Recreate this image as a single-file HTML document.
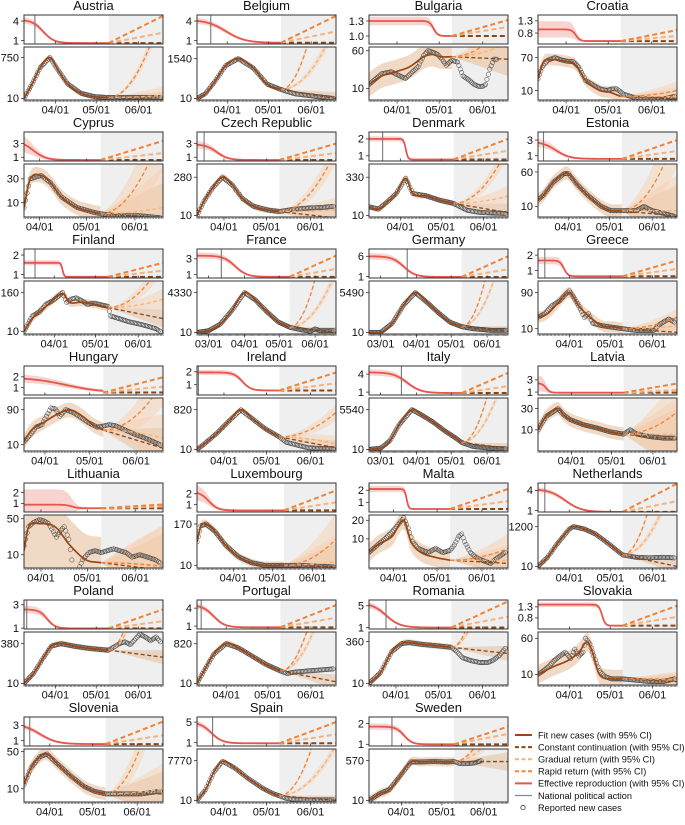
<!DOCTYPE html>
<html><head><meta charset="utf-8"><style>
html,body{margin:0;padding:0;background:#fff;}
svg{display:block;font-family:"Liberation Sans",sans-serif;}
</style></head><body>
<svg id="chart" width="685" height="825" viewBox="0 0 685 825" xmlns="http://www.w3.org/2000/svg"></svg>
<script>
// ---------- data ----------
const names=["Austria","Belgium","Bulgaria","Croatia","Cyprus","Czech Republic","Denmark","Estonia","Finland","France","Germany","Greece","Hungary","Ireland","Italy","Latvia","Lithuania","Luxembourg","Malta","Netherlands","Poland","Portugal","Romania","Slovakia","Slovenia","Spain","Sweden"];
const startDays=[8,9,11,11,21,12,8,9,9,-10,-10,8,17,12,-10,6,20,3,14,8,8,10,12,8,13,12,7];
const actionDays=[16,19,null,null,null,17,18,13,17,11,23,13,null,13,18,null,null,null,14,13,10,13,24,null,17,23,24];
const rTickLabels=[["4","1"],["4","1"],["1.3","1.0"],["1.3","0.8"],["3","1"],["3","1"],["2","1"],["3","1"],["2","1"],["3","1"],["6","1"],["2","1"],["2","1"],["2","1"],["4","1"],["3","1"],["2","1"],["2","1"],["2","1"],["4","1"],["3","1"],["4","1"],["5","1"],["1.3","0.8"],["3","1"],["5","1"],["2","1"]];
const rDomains=[[0.46,4.94],[0.46,4.94],[0.84,1.42],[0.35,1.54],[0.45,4.7],[0.45,4.7],[0.69,2.41],[0.33,4.03],[0.82,2.31],[0.55,4.25],[0.64,7.8],[0.51,2.4],[0.32,3.0],[0.2,2.45],[0.52,5.36],[0.52,5.28],[0.2,2.9],[0.3,3.0],[0.2,2.6],[0.79,5.1],[0.93,3.4],[0.52,5.36],[0.73,6.06],[0.3,1.61],[0.3,4.1],[0.32,6.0],[0.92,2.31]];
const rStart=[4.2,4.2,1.3,0.95,3.4,2.9,2.0,2.8,1.6,3.4,6.0,1.65,1.95,1.95,4.3,2.45,0.88,2.2,2.1,4.2,2.6,4.5,5.5,1.4,3.2,5.0,1.85];
const rEnd=[0.6,0.65,1.0,0.47,0.6,0.6,0.78,0.6,0.88,0.7,0.9,0.62,0.55,0.55,0.85,0.9,0.55,0.45,0.45,0.8,0.98,0.8,1.0,0.45,0.55,0.85,1.0];
const rDropDay=[22,30,57,38,27,26,35,22,37,23,20,27,45,44,23,12,51,12,40,28,25,22,24,55,24,22,33];
const rDropWidth=[4,7,1.5,1.5,4,4,0.8,5,0.6,5,5,1.5,12,3,6,1.5,2,3.5,0.7,6,3,4,5,1.2,6,4,3];
const rBand=[0.08,0.08,0.12,0.25,0.3,0.1,0.06,0.12,0.06,0.08,0.08,0.1,0.12,0.06,0.08,0.25,0.5,0.25,0.08,0.06,0.1,0.08,0.08,0.05,0.08,0.08,0.08];
const rScenGradual=[2.2,2.4,1.18,0.68,1.6,1.6,1.3,1.6,1.2,1.7,2.8,1.1,1.1,1.1,2.0,1.35,0.72,1.2,1.1,2.4,1.6,2.4,3.0,0.85,1.7,2.6,1.5];
const rScenRapid=[4.8,4.8,1.32,0.92,3.4,3.0,2.0,3.0,1.6,3.4,6.0,1.65,1.95,1.95,4.2,2.4,0.9,2.3,2.1,5.0,2.6,4.5,5.8,1.35,3.5,5.0,1.85];
const caseTickLabels=[[10,750],[10,1540],[10,60],[10,70],[10,30],[10,280],[10,330],[10,60],[10,160],[10,4330],[10,5490],[10,90],[10,90],[10,820],[10,5540],[10,30],[10,50],[10,170],[10,20],[10,1200],[10,380],[10,820],[10,360],[10,60],[10,50],[10,7770],[10,570]];
const caseTickPlacement=[[.03,.8],[.03,.78],[.22,.93],[.18,.8],[.27,.72],[.03,.75],[.03,.75],[.2,.85],[.05,.78],[.03,.78],[.03,.78],[.1,.78],[.12,.78],[.03,.78],[.03,.78],[.4,.8],[.25,.93],[.05,.83],[.55,.9],[.03,.78],[.03,.78],[.03,.78],[.03,.82],[.2,.88],[.25,.95],[.03,.78],[.03,.78]];
const fitKnots=[
[[8,10],[14,47],[20,266],[27,750],[33,200],[40,47],[50,17],[60,12],[70,11]],
[[9,10],[15,18],[22,86],[30,650],[39,1540],[50,460],[60,61],[70,31]],
[[11,12],[20,18],[30,22],[40,28],[50,45],[56,50],[62,45],[70,45]],
[[11,20],[15,55],[20,62],[30,57],[38,45],[45,18],[55,10],[62,9],[70,7]],
[[21,8],[25,30],[32,35],[38,25],[45,13],[55,8],[65,6.5],[70,6]],
[[12,10],[17,35],[23,110],[30,280],[37,140],[44,44],[52,22],[62,16],[70,14]],
[[8,22],[15,18],[22,37],[28,75],[35,300],[40,75],[50,60],[60,40],[70,30]],
[[9,14],[13,18],[20,35],[28,55],[31,55],[38,30],[45,18],[55,10],[62,8],[70,8]],
[[9,10],[15,25],[25,60],[37,150],[42,80],[50,80],[60,70],[70,55]],
[[-10,10],[0,13],[10,35],[20,280],[31,4330],[40,1500],[50,250],[60,50],[70,22]],
[[-10,10],[0,10],[10,42],[20,790],[30,5490],[40,1200],[50,220],[60,50],[70,25]],
[[8,20],[15,25],[22,45],[31,90],[38,40],[45,22],[55,12],[65,11],[70,10]],
[[17,12],[22,25],[30,40],[40,70],[48,88],[56,60],[63,35],[70,25]],
[[12,10],[17,18],[26,60],[35,250],[43,800],[51,300],[60,100],[70,40]],
[[-10,10],[0,12],[8,40],[16,500],[27,5540],[35,2500],[45,800],[55,200],[65,60],[70,30]],
[[6,10],[12,20],[21,30],[25,22],[30,17],[40,13],[50,11],[60,9],[70,8]],
[[20,12],[23,35],[30,40],[40,35],[50,15],[60,8],[70,7]],
[[3,50],[6,150],[10,170],[17,100],[25,40],[35,18],[45,12],[55,10],[70,10]],
[[14,6],[20,8],[30,11],[38,20],[43,9],[50,6],[60,5],[70,4.5]],
[[8,10],[15,30],[22,150],[31,900],[34,1200],[42,900],[50,500],[60,150],[70,40]],
[[8,10],[15,25],[22,100],[28,300],[35,380],[45,300],[55,250],[65,220],[70,210]],
[[10,10],[15,40],[22,250],[31,820],[40,500],[50,200],[60,80],[70,40]],
[[12,10],[20,25],[28,150],[35,300],[40,330],[50,280],[60,250],[70,220]],
[[8,10],[20,15],[30,20],[38,30],[44,50],[48,30],[53,10],[62,8],[70,8]],
[[13,12],[18,25],[24,40],[29,45],[36,30],[45,18],[55,11],[62,9],[70,8]],
[[12,10],[18,60],[24,1200],[30,7000],[38,2500],[48,400],[58,80],[66,30],[70,22]],
[[7,10],[15,20],[22,30],[30,120],[38,500],[45,500],[55,520],[65,500],[70,520]]];
const obsTail=[
[[80,11],[95,11],[108,11]],
[[80,18],[95,13],[108,10]],
null,null,
[[80,5.5],[95,5.5],[108,5]],
[[80,17],[90,19],[100,20],[108,22]],
[[80,16],[90,13],[108,12]],
[[80,8],[86,10],[92,8],[100,7],[108,6]],
null,
[[80,15],[88,12],[92,17],[96,13],[108,13]],
[[80,18],[95,14],[108,14]],
null,null,
[[75,22],[80,18],[90,12],[100,11],[108,11]],
[[80,16],[95,12],[108,11]],
[[75,10],[80,8],[90,7],[100,6.5],[108,6.5]],
null,
[[80,10],[95,9.5],[108,9]],
null,
[[80,30],[90,28],[100,30],[108,28]],
[[75,300],[78,380],[82,450],[86,350],[90,600],[93,900],[97,700],[101,500],[105,700],[108,450]],
[[75,30],[80,35],[90,40],[100,45],[108,50]],
[[74,150],[78,90],[84,70],[90,60],[96,60],[100,75],[104,110],[108,200]],
null,
[[80,8],[95,8],[108,9]],
[[75,14],[80,12],[90,11],[108,11]],
[[75,420],[80,420],[85,450],[90,560]]];
const obsOverride={
2:[[11,12],[20,20],[27,22],[33,18],[37,16],[42,22],[46,28],[50,48],[53,60],[57,55],[60,50],[63,40],[66,30],[70,38],[74,35],[78,18],[82,15],[86,12],[89,11],[92,11],[94,12],[97,25],[100,40],[102,40]],
3:[[11,20],[14,40],[18,60],[23,70],[27,62],[31,57],[36,55],[40,40],[45,18],[50,14],[55,11],[60,10],[64,11],[67,11],[72,8],[80,6.5],[90,6],[100,6],[108,7]],
8:[[9,10],[15,30],[20,40],[25,70],[30,90],[37,160],[40,80],[43,100],[47,110],[51,90],[55,70],[60,75],[66,65],[70,60],[72,30],[78,25],[85,20],[90,18],[95,16],[100,14],[105,12],[108,10]],
11:[[8,20],[13,25],[18,40],[24,55],[28,80],[31,100],[34,70],[38,40],[42,20],[45,25],[48,14],[55,12],[62,11],[70,10],[80,9],[88,9],[93,9],[96,12],[100,15],[104,18],[108,15]],
12:[[17,12],[21,18],[25,30],[29,35],[32,60],[35,100],[38,95],[41,60],[45,90],[50,75],[55,55],[60,40],[66,30],[70,32],[74,35],[78,33],[82,28],[90,20],[100,14],[108,10]],
16:[[20,15],[23,35],[26,42],[30,48],[33,45],[36,40],[39,28],[41,22],[44,30],[46,35],[49,20],[52,5],[55,5],[58,8],[62,11],[66,12],[70,11],[74,12],[78,13],[82,12],[86,11],[90,9],[95,10],[100,9],[105,8],[108,7]],
18:[[14,6],[20,8],[25,10],[30,13],[35,18],[38,22],[41,15],[44,9],[48,7],[55,6],[60,7],[65,6],[70,6.5],[73,8],[76,11],[78,12],[80,9],[84,6],[88,5],[92,4.5],[98,4],[103,5],[108,6]],
23:[[8,10],[12,12],[16,15],[20,20],[24,25],[28,30],[32,22],[35,35],[38,25],[41,30],[43,60],[46,45],[49,25],[53,12],[57,9],[62,8],[70,8],[80,7.5],[90,7],[100,7],[108,8]]};
const caseScenConst=[9,10,40,6,5,8,13,6,25,10,12,8,8,12,12,6,5,9,4,10,110,12,130,7,8,10,520];
const caseScenGradual=[14,1.2e5,90,7,8,16,60,8,100,1e5,1e8,12,15,18,1e7,8,5.5,13,4.5,1e6,1e9,1e7,1e9,7.5,10,1e5,1e5];
const caseScenRapid=[1.4e5,1e12,250,10,300,3000,5000,500,1500,1e12,1e14,20,500,600,1e12,25,6,60,7,1e12,1e12,1e10,1e12,8,2000,1e12,1e7];
const fitBand=[.12,.12,.25,.15,.15,.12,.12,.15,.12,.12,.12,.15,.2,.12,.12,.15,.5,.12,.15,.12,.12,.15,.12,.2,.12,.12,.2];
const scenBand=[.5,.5,.5,.3,1.0,.6,.5,1.0,.4,.5,.5,.3,.8,.5,.5,1.0,1.0,1.0,.3,.5,.4,.5,.4,.2,.6,.5,.6];
const monthDays=[0,31,61,92];
const monthLabels=["03/01","04/01","05/01","06/01"];

// ---------- layout ----------
const NS="http://www.w3.org/2000/svg";
const svg=document.getElementById("chart");
const colX=[24,197,369,538], PW=139, END=110, SHADE=70;
function mk(tag,parent){const e=document.createElementNS(NS,tag);(parent||svg).appendChild(e);return e;}
function set(e,a){for(const k in a)e.setAttribute(k,a[k]);return e;}
function L10(v){return Math.log10(v);}
function interpLog(kn,t,smooth){
  const n=kn.length;
  if(t<=kn[0][0])return L10(kn[0][1]);
  if(t>=kn[n-1][0])return L10(kn[n-1][1]);
  let i=0;while(kn[i+1][0]<t)i++;
  const c=k=>Math.max(0,Math.min(n-1,k));
  const d1=kn[i][0],d2=kn[i+1][0],u=(t-d1)/(d2-d1);
  const p1=L10(kn[i][1]),p2=L10(kn[i+1][1]);
  if(!smooth)return p1+(p2-p1)*u;
  const a=c(i-1),b=c(i+2);
  const m1=(p2-L10(kn[a][1]))/((d2-kn[a][0])||1)*(d2-d1);
  const m2=(L10(kn[b][1])-p1)/((kn[b][0]-d1)||1)*(d2-d1);
  const u2=u*u,u3=u2*u;
  return (2*u3-3*u2+1)*p1+(u3-2*u2+u)*m1+(-2*u3+3*u2)*p2+(u3-u2)*m2;
}
function pathFrom(pts){return pts.map((p,k)=>(k?"L":"M")+p[0].toFixed(2)+","+p[1].toFixed(2)).join("");}

names.forEach((name,i)=>{
  const col=i%4,row=Math.floor(i/4);
  const x0=colX[col], s0=startDays[i];
  const X=d=>x0+(d-s0)/(END-s0)*PW;
  const rTop=15+117*row, rH=29, cTop=47+117*row, cH=53;
  const rMin=rDomains[i][0], rMax=rDomains[i][1];
  const RY=v=>rTop+rH-(v-rMin)/(rMax-rMin)*rH;
  const lo=caseTickLabels[i][0], hi=caseTickLabels[i][1];
  const fLo=caseTickPlacement[i][0], fHi=caseTickPlacement[i][1];
  const CY=lv=>cTop+cH-(fLo+(lv-L10(lo))/(L10(hi)-L10(lo))*(fHi-fLo))*cH;

  const g=mk("g");
  
  

  const title=set(mk("text",g),{x:x0+PW/2,y:10+117*row,"text-anchor":"middle","font-size":"13",fill:"#111"});
  title.textContent=name;
  
  

  const cpR=set(mk("clipPath",g),{id:"cr"+i}); set(mk("rect",cpR),{x:x0,y:rTop,width:PW,height:rH});
  const cpC=set(mk("clipPath",g),{id:"cc"+i}); set(mk("rect",cpC),{x:x0,y:cTop,width:PW,height:cH});

  // ---------------- R panel ----------------
  const rg=set(mk("g",g),{"clip-path":"url(#cr"+i+")"});
  
  
  const shR=set(mk("rect",rg),{x:X(SHADE),y:rTop,width:x0+PW-X(SHADE),height:rH,fill:"#efefef"});
  
  
  const rng=rMax-rMin;
  const rFn=t=>rEnd[i]+(rStart[i]-rEnd[i])/(1+Math.exp((t-rDropDay[i])/rDropWidth[i]));
  const sFn=t=>1/(1+Math.exp((t-rDropDay[i])/rDropWidth[i]));
  const up=[],dn=[],ln=[];
  for(let t=s0;t<=SHADE+0.01;t+=0.5){
    const v=rFn(t),hw=0.03*rng+rBand[i]*rng*sFn(t);
    up.push([X(t),RY(v+hw)]);dn.push([X(t),RY(v-hw)]);ln.push([X(t),RY(v)]);
  }
  const rBandPath=set(mk("path",rg),{d:pathFrom(up.concat(dn.reverse()))+"Z",fill:"#f6c5c0",opacity:"0.75"});
  
  
  const rLine=set(mk("path",rg),{d:pathFrom(ln),fill:"none",stroke:"#e8554c","stroke-width":"1.8"});
  
  
  const rScen=[[rEnd[i],"#8a4615","constant-r-line"],[rScenGradual[i],"#f6b27c","gradual-r-line"],[rScenRapid[i],"#ef8338","rapid-r-line"]];
  rScen.forEach(sc=>{
    const l=set(mk("line",rg),{x1:X(SHADE),y1:RY(rEnd[i]),x2:X(END),y2:RY(sc[0]),stroke:sc[1],"stroke-width":"2","stroke-dasharray":"5,3"});
    
    
  });
  if(actionDays[i]!==null){
    const al=set(mk("line",rg),{x1:X(actionDays[i]),y1:rTop,x2:X(actionDays[i]),y2:rTop+rH,stroke:"#777","stroke-width":"1.1"});
    
    
  }
  const rFrame=set(mk("rect",g),{x:x0,y:rTop,width:PW,height:rH,fill:"none",stroke:"#333","stroke-width":"1"});
  
  
  rTickLabels[i].forEach(lab=>{
    const v=parseFloat(lab),y=RY(v);
    set(mk("line",g),{x1:x0-3,y1:y,x2:x0,y2:y,stroke:"#333","stroke-width":"0.8"});
    const tx=set(mk("text",g),{x:x0-5,y:y+3.8,"text-anchor":"end","font-size":"11",fill:"#111"});
    tx.textContent=lab;
    
    
  });

  // ---------------- cases panel ----------------
  const cg=set(mk("g",g),{"clip-path":"url(#cc"+i+")"});
  
  
  const shC=set(mk("rect",cg),{x:X(SHADE),y:cTop,width:x0+PW-X(SHADE),height:cH,fill:"#efefef"});
  
  
  const fk=fitKnots[i];
  const fb=fitBand[i];
  const fu=[],fd=[],fitPts=[];
  for(let t=fk[0][0];t<=SHADE+0.01;t+=0.5){
    const lv=interpLog(fk,t,true);
    fu.push([X(t),CY(lv+fb)]);fd.push([X(t),CY(lv-fb*(i===16?2.5:1))]);fitPts.push([X(t),CY(lv)]);
  }
  const fitBandPath=set(mk("path",cg),{d:pathFrom(fu.concat(fd.reverse()))+"Z",fill:"#efd3bb",opacity:"0.85"});
  
  
  const L0=interpLog(fk,SHADE,true);
  const scen=[[caseScenConst[i],1,"#8a4615","constant-continuation-line",0.7],[caseScenGradual[i],2,"#f6b27c","gradual-return-line",0.8],[caseScenRapid[i],2,"#ef8338","rapid-return-line",0.8]];
  scen.forEach(sc=>{
    const LE=L10(sc[0]),bu=[],bd=[];
    for(let t=SHADE;t<=END+0.01;t+=0.5){
      const u=(t-SHADE)/(END-SHADE),lv=L0+(LE-L0)*Math.pow(u,sc[1]),w=scenBand[i]*u*sc[4];
      bu.push([X(t),CY(lv+w)]);bd.push([X(t),CY(lv-w)]);
    }
    const b=set(mk("path",cg),{d:pathFrom(bu.concat(bd.reverse()))+"Z",fill:sc[1]===1?"#e2c0a0":"#f6cfae",opacity:sc[1]===1?"0.55":"0.45"});
    
    
  });
  const ok=obsOverride[i]?obsOverride[i]:fk.concat(obsTail[i]||[]);
  const og=mk("g",cg);
  
  
  for(let t=Math.ceil(ok[0][0]);t<=ok[ok.length-1][0];t+=1){
    const c=set(mk("circle",og),{cx:X(t),cy:CY(interpLog(ok,t,false)),r:"2.2",fill:"none",stroke:"#3a3a3a","stroke-width":"0.5"});
    
    
  }
  const fitLine=set(mk("path",cg),{d:pathFrom(fitPts),fill:"none",stroke:"#9a4616","stroke-width":"1.7"});
  
  
  scen.forEach(sc=>{
    const LE=L10(sc[0]),pts=[];
    for(let t=SHADE;t<=END+0.01;t+=0.25){
      const u=(t-SHADE)/(END-SHADE),lv=L0+(LE-L0)*Math.pow(u,sc[1]);
      pts.push([X(t),Math.max(cTop-5,CY(lv))]);
    }
    const p=set(mk("path",cg),{d:pathFrom(pts),fill:"none",stroke:sc[2],"stroke-width":"1.3","stroke-dasharray":"4,2.5"});
    
    
  });
  const cFrame=set(mk("rect",g),{x:x0,y:cTop,width:PW,height:cH,fill:"none",stroke:"#333","stroke-width":"1"});
  
  
  [lo,hi].forEach(v=>{
    const y=CY(L10(v));
    set(mk("line",g),{x1:x0-3,y1:y,x2:x0,y2:y,stroke:"#333","stroke-width":"0.8"});
    const tx=set(mk("text",g),{x:x0-5,y:y+3.8,"text-anchor":"end","font-size":"11",fill:"#111"});
    tx.textContent=String(v);
    
    
  });
  let dt="";
  for(let d=Math.ceil(s0);d<=END;d++){const x=X(d);dt+="M"+x.toFixed(2)+","+(cTop+cH)+"v2";}
  set(mk("path",g),{d:dt,stroke:"#555","stroke-width":"0.6",fill:"none"});
  monthDays.forEach((d,k)=>{
    if(d<s0+1||d>END)return;
    const x=X(d);
    set(mk("line",g),{x1:x,y1:cTop+cH,x2:x,y2:cTop+cH+3.5,stroke:"#333","stroke-width":"0.8"});
    set(mk("line",g),{x1:x,y1:rTop+rH,x2:x,y2:rTop+rH-2.5,stroke:"#333","stroke-width":"0.8"});
    const tx=set(mk("text",g),{x:x,y:cTop+cH+13.5,"text-anchor":"middle","font-size":"11",fill:"#111"});
    tx.textContent=monthLabels[k];
    
    
  });
});

// ---------- legend ----------
const legendLabels=["Fit new cases (with 95% CI)","Constant continuation (with 95% CI)","Gradual return (with 95% CI)","Rapid return (with 95% CI)","Effective reproduction (with 95% CI)","National political action","Reported new cases"];
const legendColors=["#9a4616","#8a4615","#f6b27c","#ef8338","#e8554c","#888","#222"];
const leg=mk("g");


legendLabels.forEach((lab,k)=>{
  const y=735+k*12.1;
  const e=mk("g",leg);
  
  
  if(k===6){
    set(mk("circle",e),{cx:523,cy:y,r:"2.2",fill:"none",stroke:"#222","stroke-width":"0.7"});
  }else{
    const a={x1:515,y1:y,x2:532,y2:y,stroke:legendColors[k],"stroke-width":k===5?"1.2":"2"};
    if(k>=1&&k<=3)a["stroke-dasharray"]="4,2.5";
    set(mk("line",e),a);
  }
  const tx=set(mk("text",e),{x:538,y:y+3.3,"font-size":"9.2",fill:"#111"});
  tx.textContent=lab;
});
</script>
</body></html>
